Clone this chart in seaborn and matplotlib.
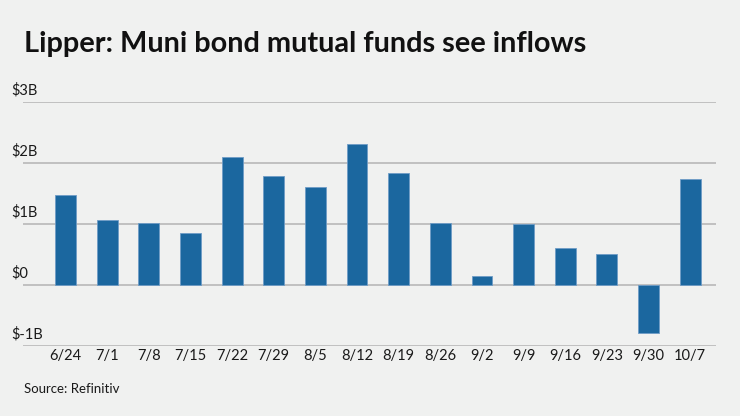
import matplotlib
matplotlib.use("Agg")
import matplotlib.pyplot as plt
import matplotlib.transforms as mtransforms
import pandas as pd
import seaborn as sns

# Weekly flows into muni bond mutual funds, $ billions
weeks = ["6/24", "7/1", "7/8", "7/15", "7/22", "7/29", "8/5", "8/12",
         "8/19", "8/26", "9/2", "9/9", "9/16", "9/23", "9/30", "10/7"]
flows = [1.47, 1.06, 1.02, 0.85, 2.09, 1.79, 1.61, 2.31,
         1.83, 1.01, 0.14, 1.00, 0.61, 0.50, -0.78, 1.73]
ytick_values = [-1, 0, 1, 2, 3]
ytick_labels = ["$-1B", "$0", "$1B", "$2B", "$3B"]

title = "Lipper: Muni bond mutual funds see inflows"
source = "Source: Refinitiv"

bg = "#f0f1f0"
bar_color = "#1b679f"
grid_color = "#b3b3b3"
text_color = "#1a1a1a"

sns.set_theme(style="white")
plt.rcParams["font.family"] = ["Lato", "DejaVu Sans"]

df = pd.DataFrame({"week": weeks, "flow": flows})

fig = plt.figure(figsize=(7.4, 4.16), dpi=100, facecolor=bg)
ax = fig.add_axes([0.0315, 0.1683, 0.936, 0.5873])
ax.set_facecolor(bg)

sns.barplot(data=df, x="week", y="flow", color=bar_color, saturation=1,
            width=0.5, edgecolor="#6f9cc6", linewidth=0.6, ax=ax, zorder=3)

ax.set_ylim(-1, 3)
ax.set_xlim(-1.014, 15.62)

# horizontal gridlines
for v in ytick_values:
    ax.axhline(v, color=grid_color, lw=1.1, zorder=1)

for s in ax.spines.values():
    s.set_visible(False)

ax.set_yticks([])
ax.set_xlabel("")
ax.set_ylabel("")
ax.tick_params(axis="x", length=0, pad=2.5, labelsize=10.5, labelcolor=text_color)

# y labels sit above the gridlines, at the left
trans = mtransforms.blended_transform_factory(ax.transAxes, ax.transData)
trans = mtransforms.offset_copy(trans, fig=fig, y=5.5, units="points")
for v, lab in zip(ytick_values, ytick_labels):
    ax.text(-0.0167, v, lab, transform=trans, ha="left", va="baseline",
            fontsize=10.5, color=text_color)

fig.text(0.033, 0.874, title, fontsize=20.8, fontweight="bold",
         color="#111111", ha="left", va="baseline")
fig.text(0.032, 0.055, source, fontsize=9.5, color=text_color,
         ha="left", va="baseline")

fig.savefig("out.png", dpi=100, facecolor=bg)
